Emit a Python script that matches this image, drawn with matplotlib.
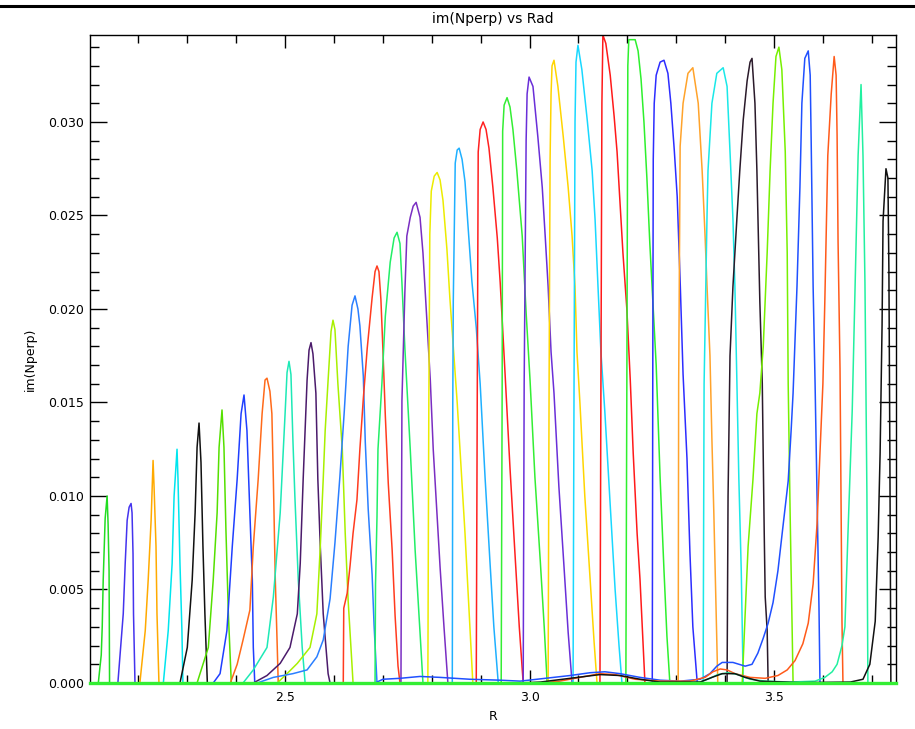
import matplotlib
matplotlib.use('Agg')
import matplotlib.pyplot as plt
from matplotlib.lines import Line2D
from matplotlib.ticker import MultipleLocator, FormatStrFormatter

# im(Nperp) traces vs R (units of 1e-3)
r01 = [2.118, 2.124, 2.126, 2.128, 2.132, 2.136, 2.138, 2.140, 2.141]
v01 = [0, 1.5, 3.0, 5.5, 8.8, 10.0, 8.5, 6.0, 0]
r02 = [2.158, 2.169, 2.173, 2.177, 2.181, 2.185, 2.187, 2.189, 2.190, 2.193]
v02 = [0, 3.7, 6.4, 8.7, 9.4, 9.6, 9.1, 6.9, 3.7, 0]
r03 = [2.203, 2.214, 2.220, 2.226, 2.230, 2.232, 2.236, 2.238, 2.242]
v03 = [0, 2.8, 5.5, 8.7, 11.9, 10.5, 7.3, 3.7, 0]
r04 = [2.251, 2.261, 2.269, 2.273, 2.279, 2.281, 2.285, 2.289, 2.291]
v04 = [0, 2.8, 6.4, 10.0, 12.5, 10.9, 6.4, 2.8, 0]
r05 = [2.285, 2.300, 2.310, 2.316, 2.320, 2.324, 2.328, 2.332, 2.336, 2.341]
v05 = [0, 1.9, 5.5, 9.1, 12.6, 13.9, 11.8, 7.3, 3.7, 0]
r06 = [2.320, 2.326, 2.343, 2.353, 2.361, 2.365, 2.371, 2.375, 2.379, 2.384, 2.390]
v06 = [0, 0.5, 1.9, 5.5, 9.1, 12.6, 14.6, 12.6, 8.2, 3.7, 0]
r07 = [2.353, 2.367, 2.381, 2.392, 2.402, 2.410, 2.416, 2.422, 2.428, 2.433, 2.435, 2.438]
v07 = [0, 0.5, 2.8, 7.3, 10.9, 14.4, 15.4, 13.5, 9.1, 5.5, 1.9, 0]
r08 = [2.388, 2.402, 2.414, 2.428, 2.435, 2.445, 2.453, 2.459, 2.463, 2.469, 2.473,
       2.476, 2.480, 2.484, 2.486]
v08 = [0, 1.0, 2.3, 3.9, 7.3, 10.9, 14.4, 16.2, 16.3, 15.6, 14.4, 10.9, 5.5, 1.9, 0]
r09 = [2.414, 2.435, 2.463, 2.476, 2.490, 2.500, 2.504, 2.508, 2.512, 2.516, 2.520,
       2.527, 2.535, 2.541]
v09 = [0, 0.7, 1.9, 4.6, 9.1, 14.4, 16.6, 17.2, 16.5, 13.0, 10.0, 5.5, 1.9, 0]
r10 = [2.435, 2.463, 2.490, 2.510, 2.525, 2.531, 2.537, 2.545, 2.549, 2.553, 2.557,
       2.563, 2.567, 2.572, 2.578, 2.588, 2.592]
v10 = [0, 0.4, 1.05, 1.9, 3.7, 6.4, 10.9, 16.2, 17.8, 18.2, 17.6, 15.5, 10.9, 7.3,
       3.7, 0.5, 0]
r11 = [2.484, 2.504, 2.525, 2.551, 2.565, 2.572, 2.578, 2.582, 2.588, 2.594, 2.598,
       2.602, 2.608, 2.617, 2.623, 2.629, 2.637, 2.639]
v11 = [0, 0.5, 1.05, 1.9, 3.7, 7.3, 10.9, 13.5, 16.2, 18.8, 19.4, 18.9, 16.0, 12.5,
       8.0, 4.4, 0.9, 0]
r12 = [2.443, 2.476, 2.516, 2.545, 2.565, 2.578, 2.592, 2.602, 2.612, 2.621, 2.629,
       2.637, 2.643, 2.649, 2.653, 2.660, 2.664, 2.670, 2.678, 2.682, 2.688]
v12 = [0, 0.3, 0.5, 0.7, 1.4, 2.3, 4.5, 7.5, 11.0, 14.5, 18.0, 20.2, 20.7, 20.0,
       19.1, 16.4, 12.9, 9.3, 5.8, 3.1, 0]
r13 = [2.619, 2.620, 2.627, 2.633, 2.639, 2.647, 2.653, 2.660, 2.668, 2.678, 2.684,
       2.688, 2.692, 2.696, 2.700, 2.705, 2.711, 2.719, 2.725, 2.731, 2.735]
v13 = [0, 4.0, 4.8, 6.3, 8.0, 9.8, 12.5, 15.2, 17.9, 20.6, 22.0, 22.3, 22.0, 20.5,
       17.9, 14.3, 10.7, 7.1, 3.6, 0.9, 0]
r14 = [2.684, 2.685, 2.688, 2.690, 2.698, 2.705, 2.715, 2.723, 2.729, 2.735, 2.739,
       2.745, 2.756, 2.766, 2.776, 2.782]
v14 = [0, 5.3, 8.9, 12.5, 16.0, 19.6, 22.5, 23.8, 24.1, 23.5, 21.4, 17.9, 12.5, 7.1,
       2.7, 0]
r15 = [2.737, 2.739, 2.745, 2.749, 2.756, 2.762, 2.768, 2.776, 2.782, 2.790, 2.797,
       2.803, 2.811, 2.817, 2.825, 2.833]
v15 = [0, 15.1, 20.9, 23.9, 24.9, 25.5, 25.7, 24.9, 23.0, 19.4, 16.2, 12.5, 8.9, 6.2,
       3.0, 0]
r16 = [2.792, 2.794, 2.796, 2.799, 2.805, 2.811, 2.817, 2.823, 2.831, 2.837, 2.844,
       2.852, 2.860, 2.868, 2.876, 2.884]
v16 = [0, 15.0, 24.0, 26.3, 27.1, 27.3, 26.9, 25.8, 23.2, 20.6, 18.0, 15.0, 11.5, 8.0,
       4.0, 0]
r17 = [2.842, 2.843, 2.844, 2.848, 2.852, 2.856, 2.862, 2.868, 2.874, 2.882, 2.891,
       2.899, 2.909, 2.919, 2.927, 2.936]
v17 = [0, 15.0, 20.4, 27.8, 28.5, 28.6, 28.0, 26.8, 24.5, 21.5, 19.0, 16.0, 11.0, 6.5,
       3.0, 0]
r18 = [2.891, 2.893, 2.895, 2.899, 2.905, 2.911, 2.917, 2.925, 2.934, 2.940, 2.950,
       2.960, 2.970, 2.979, 2.987]
v18 = [0, 15.0, 28.4, 29.6, 30.0, 29.6, 28.6, 26.5, 23.8, 21.4, 16.5, 11.5, 7.0, 3.0, 0]
r19 = [2.942, 2.944, 2.945, 2.948, 2.954, 2.960, 2.966, 2.974, 2.985, 2.993, 3.001,
       3.011, 3.022, 3.030, 3.036]
v19 = [0, 16.0, 29.5, 30.9, 31.3, 30.8, 29.6, 27.4, 23.9, 19.8, 16.2, 11.0, 6.5, 3.0, 0]
r20 = [2.987, 2.989, 2.993, 2.995, 2.999, 3.007, 3.017, 3.026, 3.032, 3.038, 3.044,
       3.050, 3.060, 3.071, 3.079, 3.087]
v20 = [0, 16.0, 29.0, 31.5, 32.4, 31.9, 29.2, 26.5, 23.9, 21.2, 17.7, 15.5, 10.5, 6.0,
       2.7, 0]
r21 = [3.038, 3.040, 3.042, 3.044, 3.046, 3.050, 3.058, 3.069, 3.079, 3.087, 3.093,
       3.097, 3.103, 3.113, 3.124, 3.132, 3.138]
v21 = [0, 16.0, 28.0, 31.5, 33.0, 33.3, 31.9, 29.2, 26.5, 23.9, 21.2, 17.7, 15.0, 10.0,
       5.5, 2.2, 0]
r22 = [3.089, 3.091, 3.093, 3.095, 3.099, 3.107, 3.118, 3.128, 3.134, 3.140, 3.146,
       3.154, 3.165, 3.175, 3.183, 3.189]
v22 = [0, 16.0, 30.0, 33.2, 34.1, 32.8, 30.1, 27.4, 24.8, 21.2, 17.7, 14.5, 9.5, 5.0,
       2.0, 0]
r23 = [3.144, 3.146, 3.148, 3.150, 3.156, 3.165, 3.173, 3.179, 3.185, 3.191, 3.199,
       3.206, 3.212, 3.220, 3.226, 3.232, 3.236]
v23 = [0, 16.0, 31.0, 34.65, 34.2, 32.5, 30.3, 28.4, 25.7, 23.0, 20.0, 16.2, 12.3, 8.0,
       5.5, 2.2, 0]
r24 = [3.197, 3.199, 3.201, 3.203, 3.216, 3.222, 3.228, 3.234, 3.240, 3.246, 3.253,
       3.259, 3.267, 3.275, 3.281, 3.287]
v24 = [0, 16.0, 33.0, 34.4, 34.4, 33.8, 32.3, 30.0, 27.0, 23.5, 20.0, 17.0, 11.0, 6.0,
       2.5, 0]
r25 = [3.251, 3.252, 3.253, 3.255, 3.259, 3.267, 3.275, 3.283, 3.289, 3.296, 3.302,
       3.308, 3.314, 3.322, 3.328, 3.334, 3.343]
v25 = [0, 16.0, 28.0, 31.0, 32.5, 33.2, 33.3, 32.6, 31.0, 28.5, 26.0, 21.5, 16.5, 12.0,
       7.0, 3.0, 0]
r26 = [3.304, 3.305, 3.308, 3.314, 3.324, 3.334, 3.345, 3.353, 3.359, 3.363, 3.369,
       3.373, 3.377, 3.381, 3.385]
v26 = [0, 16.0, 28.7, 31.0, 32.6, 32.9, 31.0, 27.4, 23.9, 21.2, 17.5, 13.0, 9.0, 4.5, 0]
r27 = [3.355, 3.357, 3.361, 3.363, 3.365, 3.373, 3.383, 3.396, 3.404, 3.410, 3.416,
       3.420, 3.424, 3.428, 3.433, 3.437]
v27 = [0, 16.0, 22.0, 25.0, 27.4, 31.0, 32.6, 32.9, 31.9, 28.4, 24.8, 21.2, 16.2, 11.0,
       6.0, 0]
r28 = [3.404, 3.406, 3.410, 3.416, 3.424, 3.430, 3.437, 3.445, 3.451, 3.455, 3.461,
       3.465, 3.468, 3.471, 3.476, 3.478, 3.480, 3.482, 3.486, 3.488]
v28 = [0, 10.0, 17.5, 21.2, 24.8, 27.4, 30.1, 32.2, 33.2, 33.4, 31.0, 27.4, 23.9, 20.4,
       16.0, 12.0, 8.0, 4.6, 2.8, 0]
r29 = [3.435, 3.441, 3.447, 3.457, 3.465, 3.471, 3.478, 3.486, 3.492, 3.498, 3.504,
       3.510, 3.516, 3.523, 3.527, 3.529, 3.533, 3.537, 3.539]
v29 = [0, 3.7, 7.3, 10.9, 14.4, 15.5, 18.0, 23.0, 27.4, 31.0, 33.5, 34.0, 32.8, 28.4,
       23.0, 16.0, 9.0, 3.0, 0]
r30 = [2.684, 2.700, 2.735, 2.776, 2.817, 2.878, 2.940, 2.981, 3.032, 3.083, 3.124,
       3.154, 3.185, 3.226, 3.267, 3.308, 3.349, 3.369, 3.383, 3.394, 3.416, 3.441,
       3.455, 3.467, 3.478, 3.488, 3.498, 3.508, 3.518, 3.529, 3.535, 3.539, 3.547,
       3.553, 3.557, 3.563, 3.570, 3.574, 3.576, 3.580, 3.584, 3.588, 3.592, 3.594]
v30 = [0, 0.2, 0.25, 0.35, 0.3, 0.2, 0.15, 0.1, 0.25, 0.4, 0.55, 0.6, 0.5, 0.3, 0.15,
       0.1, 0.2, 0.5, 0.9, 1.1, 1.1, 0.9, 1.0, 1.6, 2.4, 3.2, 4.3, 6.0, 8.3, 10.8, 13.5,
       15.5, 21.2, 26.5, 31.0, 33.4, 33.8, 32.5, 29.0, 21.2, 16.0, 10.0, 4.0, 0]
r31 = [3.022, 3.062, 3.103, 3.144, 3.175, 3.216, 3.267, 3.328, 3.359, 3.375, 3.390,
       3.404, 3.420, 3.451, 3.482, 3.508, 3.527, 3.543, 3.559, 3.570, 3.580, 3.588,
       3.594, 3.600, 3.604, 3.610, 3.617, 3.623, 3.627, 3.629, 3.631, 3.635, 3.637,
       3.639, 3.641]
v31 = [0, 0.1, 0.3, 0.5, 0.45, 0.2, 0.1, 0.1, 0.3, 0.6, 0.75, 0.7, 0.5, 0.3, 0.25, 0.4,
       0.7, 1.2, 2.1, 3.2, 5.3, 8.5, 12.3, 16.0, 20.5, 28.2, 31.5, 33.5, 32.5, 29.3,
       23.6, 16.8, 10.1, 3.3, 0]
r32 = [3.328, 3.349, 3.369, 3.385, 3.406, 3.426, 3.451, 3.482, 3.533, 3.584, 3.604,
       3.619, 3.629, 3.639, 3.645, 3.651, 3.660, 3.666, 3.672, 3.678, 3.682, 3.686,
       3.690, 3.692]
v32 = [0, 0.05, 0.25, 0.45, 0.55, 0.45, 0.2, 0.1, 0.05, 0.1, 0.3, 0.6, 1.0, 2.0, 3.0,
       7.8, 14.6, 21.4, 28.2, 32.0, 28.2, 21.4, 10.1, 0]
r33 = [2.981, 3.022, 3.083, 3.144, 3.185, 3.226, 3.267, 3.349, 3.373, 3.394, 3.420,
       3.441, 3.471, 3.553, 3.656, 3.682, 3.696, 3.707, 3.713, 3.717, 3.721, 3.723,
       3.729, 3.733, 3.735, 3.737, 3.739]
v33 = [0, 0.05, 0.25, 0.45, 0.4, 0.2, 0.05, 0.05, 0.3, 0.5, 0.5, 0.3, 0.1, 0.02, 0.05,
       0.2, 1.0, 3.3, 7.8, 12.3, 19.1, 24.7, 27.5, 27.0, 22.0, 12.0, 0]

# last trace: zero everywhere, drawn over the axis
r_zero = [2.101, 3.7495]
v_zero = [0, 0]

traces = [(r01, v01), (r02, v02), (r03, v03), (r04, v04), (r05, v05), (r06, v06),
          (r07, v07), (r08, v08), (r09, v09), (r10, v10), (r11, v11), (r12, v12),
          (r13, v13), (r14, v14), (r15, v15), (r16, v16), (r17, v17), (r18, v18),
          (r19, v19), (r20, v20), (r21, v21), (r22, v22), (r23, v23), (r24, v24),
          (r25, v25), (r26, v26), (r27, v27), (r28, v28), (r29, v29), (r30, v30),
          (r31, v31), (r32, v32), (r33, v33)]

colors = ['#22dd22', '#4433ee', '#ffaa00', '#00e5ee', '#111111', '#55e000',
          '#1f3fff', '#ff6a1a', '#1de9b6', '#4b1b6b', '#a8f000', '#2a7fff',
          '#ff3b1f', '#22ee66', '#7a2ec2', '#ecec00', '#1fb0ff', '#ff2020',
          '#33ee33', '#6a2fd8', '#ffd500', '#19d8ff', '#ff1a1a', '#2ef02e',
          '#2d2dff', '#ffa32b', '#1ae8e8', '#2a1a2a', '#77f000', '#2050ff',
          '#ff5a1a', '#22f0a0', '#111111']

SCALE = 1e-3

fig = plt.figure(figsize=(9.15, 7.29), dpi=100)
ax = fig.add_axes([90 / 915, 46 / 729, 806 / 915, 648 / 729])

for (r, v), c in zip(traces, colors):
    ax.plot(r, [y * SCALE for y in v], color=c, lw=1.1)
ax.plot(r_zero, v_zero, color='#33ee33', lw=2.4, clip_on=False, zorder=3)

ax.set_xlim(2.101, 3.7495)
ax.set_ylim(0, 0.03465)

ax.xaxis.set_major_locator(MultipleLocator(0.5))
ax.xaxis.set_minor_locator(MultipleLocator(0.1))
ax.yaxis.set_major_locator(MultipleLocator(0.005))
ax.yaxis.set_minor_locator(MultipleLocator(0.001))
ax.xaxis.set_major_formatter(FormatStrFormatter('%.1f'))
ax.yaxis.set_major_formatter(FormatStrFormatter('%.3f'))

ax.tick_params(which='both', direction='in', top=True, right=True,
               width=1.0, labelsize=9, colors='black')
ax.tick_params(axis='x', which='major', length=9.5, pad=6)
ax.tick_params(axis='x', which='minor', length=5.5)
ax.tick_params(axis='y', which='major', length=12, pad=4)
ax.tick_params(axis='y', which='minor', length=6.5)
for s in ax.spines.values():
    s.set_linewidth(1.0)

ax.set_title('im(Nperp) vs Rad', fontsize=10, pad=9)
ax.set_xlabel('R', fontsize=9, labelpad=4)
ax.set_ylabel('im(Nperp)', fontsize=9, labelpad=8)

# window border line at the very top of the screenshot
fig.add_artist(Line2D([0, 1], [1 - 6 / 729, 1 - 6 / 729], color='black', lw=2.2))

fig.savefig('out.png', dpi=100)
